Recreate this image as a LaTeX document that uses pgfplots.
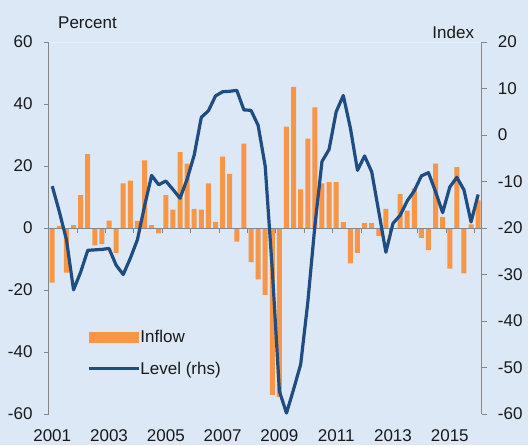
\documentclass[border=0pt]{standalone}
\usepackage{fontspec}
\setmainfont{Liberation Sans}
\usepackage{pgfplots}
\usepackage{pgfplotstable}
\pgfplotsset{compat=1.18}
\definecolor{bgc}{RGB}{220,232,246}
\definecolor{topline}{RGB}{232,240,250}
\definecolor{barc}{RGB}{247,150,70}
\definecolor{linec}{RGB}{33,76,129}
\definecolor{axc}{RGB}{134,134,134}
\definecolor{txt}{RGB}{25,25,25}

\pgfplotstableread{
k inflow level
0 -17.6 -11.0
1 0.7 -16.5
2 -14.4 -22.5
3 0.9 -33.3
4 10.6 -29.5
5 23.8 -24.8
6 -5.6 -24.7
7 -5.2 -24.6
8 2.4 -24.4
9 -8.0 -28.0
10 14.4 -30.0
11 15.3 -26.5
12 2.3 -22.5
13 21.8 -15.3
14 0.9 -8.7
15 -1.7 -10.7
16 10.6 -9.9
17 5.9 -11.7
18 24.5 -13.6
19 20.8 -9.5
20 6.2 -4.3
21 5.9 3.8
22 14.4 5.2
23 2.0 8.4
24 23.0 9.3
25 17.5 9.4
26 -4.4 9.6
27 27.2 5.4
28 -11.0 5.3
29 -16.6 2.1
30 -21.6 -6.7
31 -53.8 -29.0
32 -54.5 -55.1
33 32.7 -59.8
34 45.5 -54.7
35 12.5 -49.3
36 28.8 -36.0
37 38.9 -19.5
38 14.4 -5.7
39 14.8 -3.1
40 14.8 5.0
41 1.9 8.5
42 -11.4 1.5
43 -8.0 -7.6
44 1.6 -4.5
45 1.6 -7.9
46 -2.5 -16.5
47 6.2 -25.2
48 0.0 -19.0
49 11.0 -17.3
50 5.6 -14.2
51 12.8 -12.0
52 -3.2 -8.8
53 -7.1 -8.1
54 20.8 -12.2
55 3.5 -16.7
56 -13.1 -11.2
57 19.6 -9.1
58 -14.6 -11.8
59 1.2 -18.7
60 8.9 -12.8
}\data

\pgfplotsset{
  myaxis/.style={
    at={(0,0)}, anchor=south west,
    scale only axis, width=433pt, height=372pt,
    xmin=2001, xmax=2016.25,
    clip=false,
    tick align=outside, major tick length=5pt,
    every tick/.style={axc, line width=0.8pt},
    ticklabel style={font=\fontsize{17}{20}\selectfont, text=txt},
    axis line style={-, draw=axc, line width=0.8pt},
  }
}

\begin{document}
\begin{tikzpicture}[font=\fontsize{17}{20}\selectfont]
\useasboundingbox (-48.7pt,-31pt) rectangle (479.3pt,414pt);
\fill[bgc] (-48.7pt,-31pt) rectangle (479.3pt,414pt);
\draw[topline, line width=0.8pt] (0pt,372pt) -- (433pt,372pt);

\begin{axis}[myaxis,
  ymin=-60, ymax=60,
  axis y line*=left,
  axis x line*=bottom,
  x axis line style={draw=none},
  xtick={2001.125,2003.125,2005.125,2007.125,2009.125,2011.125,2013.125,2015.125},
  xticklabels={2001,2003,2005,2007,2009,2011,2013,2015},
  major x tick style={draw=none},
  xticklabel style={anchor=base, inner sep=0pt, yshift=-22.5pt},
  ytick={-60,-40,-20,0,20,40,60},
  yticklabels={-60,-40,-20,0,20,40,60},
  yticklabel style={anchor=east, inner sep=0pt, xshift=-11pt},
]
\addplot[ybar, bar width=5pt, fill=barc, draw=none]
  table[x expr={2001.125+\thisrow{k}/4}, y=inflow] {\data};
\draw[axc, line width=0.8pt] (axis cs:2001,0) -- (axis cs:2016.25,0);
\pgfplotsinvokeforeach{2002,2003,2004,2005,2006,2007,2008,2009,2010,2011,2012,2013,2014,2015,2016}{
  \draw[axc, line width=0.8pt] (axis cs:#1,0) -- ++(0pt,-5pt);
}
\node[anchor=base west, inner sep=0pt, text=txt] at (rel axis cs:0,1) [xshift=9.3pt, yshift=14pt] {Percent};
\end{axis}

\begin{axis}[myaxis,
  ymin=-60, ymax=20,
  axis y line*=right,
  axis x line=none,
  ytick={-60,-50,-40,-30,-20,-10,0,10,20},
  yticklabels={-60,-50,-40,-30,-20,-10,0,10,20},
  yticklabel style={anchor=west, inner sep=0pt, xshift=11pt},
  legend style={draw=none, fill=none, at={(rel axis cs:0.0885,0.226)}, anchor=north west,
    inner sep=0pt, row sep=18pt, font=\fontsize{17}{20}\selectfont, text=txt,
    nodes={inner sep=0pt}},
  legend cell align=left,
]
\addlegendimage{legend image code/.code={\fill[barc] (0pt,-5pt) rectangle (49pt,5pt);}}
\addlegendentry{Inflow}
\addplot[linec, line width=3.2pt, line join=round,
  legend image code/.code={\draw[linec, line width=3.2pt] (0pt,0pt) -- (50pt,0pt);}]
  table[x expr={2001.125+\thisrow{k}/4}, y=level] {\data};
\addlegendentry{Level (rhs)}
\node[anchor=base east, inner sep=0pt, text=txt] at (rel axis cs:1,1) [xshift=-7.5pt, yshift=4pt] {Index};
\end{axis}
\end{tikzpicture}
\end{document}
